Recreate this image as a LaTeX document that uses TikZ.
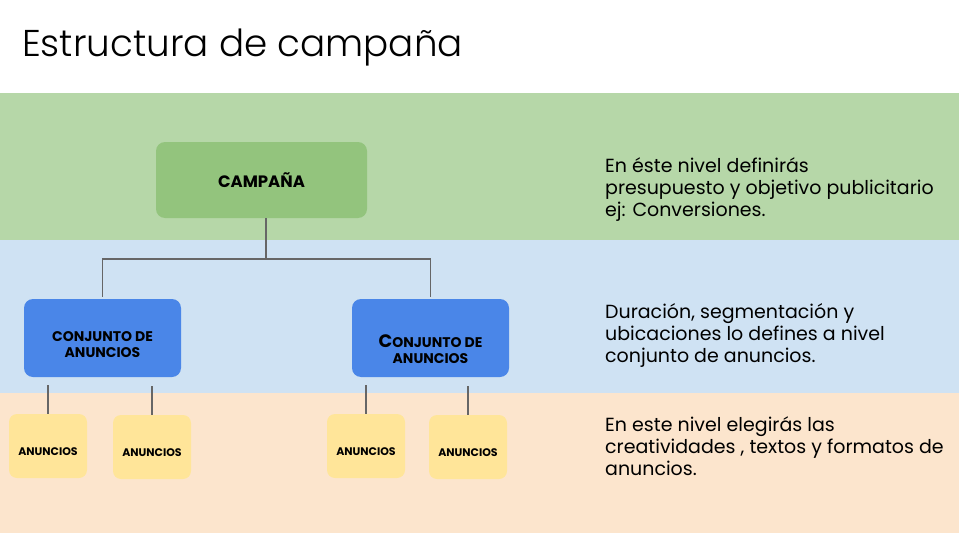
\documentclass[tikz,border=0pt]{standalone}
\usepackage{fontspec}
\setmainfont{Poppins}
\newfontfamily\titlefont{Poppins Light}
\usetikzlibrary{positioning}

\definecolor{bandgreen}{HTML}{B6D7A8}
\definecolor{bandblue}{HTML}{CFE2F3}
\definecolor{bandorange}{HTML}{FCE5CD}
\definecolor{campfill}{HTML}{93C47D}
\definecolor{conjfill}{HTML}{4A86E8}
\definecolor{adfill}{HTML}{FFE599}
\definecolor{linkgray}{HTML}{666666}

\tikzset{
	box/.style = {rounded corners = 9pt, align = center, inner sep = 0pt},
	lowered/.style = {execute at begin node = {\rule{0pt}{#1}}},
	campbox/.style = {box, fill = campfill, minimum width = 211, minimum height = 76, font = \bfseries\fontsize{16.5}{20}\selectfont},
	conjbox/.style = {box, fill = conjfill, minimum width = 157, minimum height = 78, font = \bfseries\fontsize{14}{16}\selectfont},
	adbox/.style = {box, fill = adfill, minimum width = 78, minimum height = 64, rounded corners = 8pt, font = \bfseries\fontsize{11}{13}\selectfont, lowered = 20pt},
	link/.style = {draw = linkgray, line width = 1.1pt},
	note/.style = {anchor = base west, align = left, inner sep = 0pt, font = \fontsize{19}{22}\selectfont},
}

\begin{document}
\begin{tikzpicture} [x = 1pt, y = -1pt]
	\useasboundingbox (0, 0) rectangle (959, 535) ;
	\fill [white] (0, 0) rectangle (959, 535) ;

	% bands
	\fill [bandgreen] (0, 93) rectangle (959, 240) ;
	\fill [bandblue] (0, 240) rectangle (959, 393) ;
	\fill [bandorange] (0, 393) rectangle (959, 533) ;

	\node [anchor = base west, inner sep = 0pt, font = \titlefont\fontsize{37.3}{45}\selectfont] (title) at (22, 57) {Estructura de campaña} ;

	% boxes
	\node [campbox] (campana) at (261.5, 180) {CAMPAÑA} ;
	\node [conjbox, lowered = 40pt] (conj1) at (102.5, 338) {CONJUNTO DE\\ANUNCIOS} ;
	\node [conjbox, lowered = 52pt] (conj2) at (430.5, 338) {{\fontsize{18}{16}\selectfont C}ONJUNTO DE\\ANUNCIOS} ;

	\node [adbox] (ad1) at (48, 446) {ANUNCIOS} ;
	\node [adbox] (ad2) at (152, 447) {ANUNCIOS} ;
	\node [adbox] (ad3) at (366, 446) {ANUNCIOS} ;
	\node [adbox] (ad4) at (468, 447) {ANUNCIOS} ;

	% connectors
	\coordinate (fork) at (266, 259) ;
	\draw [link] (fork) -- (fork |- campana.south) ;
	\draw [link] (conj1.north) ++(0, -2) |- (fork) ;
	\draw [link] (conj2.north) ++(0, -2) |- (fork) ;
	\foreach \ad in {ad1, ad2, ad3, ad4}
		\draw [link] (\ad.north) -- ++(0, -29) ;

	% notes
	\node [note] (note1) at (605, 216) {En éste nivel definirás\\presupuesto y objetivo publicitario\\ej: Conversiones.} ;
	\node [note] (note2) at (605, 362) {Duración, segmentación y\\ubicaciones lo defines a nivel\\conjunto de anuncios.} ;
	\node [note] (note3) at (605, 475) {En este nivel elegirás las\\creatividades , textos y formatos de\\anuncios.} ;
\end{tikzpicture}
\end{document}
